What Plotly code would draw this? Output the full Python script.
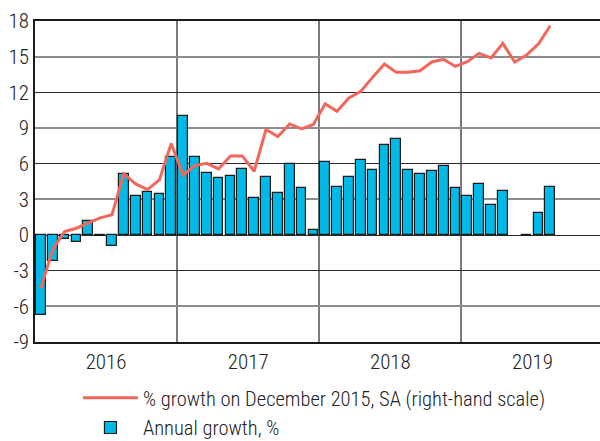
import plotly.graph_objects as go

# Monthly data, Jan 2016 - Aug 2019
months = ([f"2016-{m:02d}" for m in range(1, 13)] + [f"2017-{m:02d}" for m in range(1, 13)]
          + [f"2018-{m:02d}" for m in range(1, 13)] + [f"2019-{m:02d}" for m in range(1, 9)])

annual_growth = [-6.7, -2.15, -0.3, -0.6, 1.15, -0.1, -0.9, 5.15, 3.25, 3.6, 3.45, 6.55,
                 10.0, 6.6, 5.2, 4.8, 4.95, 5.55, 3.1, 4.9, 3.57, 5.98, 3.93, 0.43,
                 6.1, 4.05, 4.86, 6.35, 5.45, 7.6, 8.05, 5.45, 5.17, 5.36, 5.78, 3.93,
                 3.32, 4.3, 2.56, 3.74, None, -0.05, 1.83, 4.05]

growth_dec2015 = [-4.47, -1.2, 0.3, 0.57, 1.02, 1.44, 1.7, 5.14, 4.3, 3.82, 4.64, 7.7,
                  5.05, 5.84, 6.03, 5.56, 6.65, 6.65, 5.36, 8.87, 8.28, 9.34, 8.92, 9.3,
                  11.03, 10.4, 11.53, 12.08, 13.26, 14.39, 13.68, 13.68, 13.82, 14.55, 14.77, 14.18,
                  14.58, 15.28, 14.89, 16.12, 14.55, 15.14, 16.07, 17.6]

years = ["2016", "2017", "2018", "2019"]
y_ticks = [-9, -6, -3, 0, 3, 6, 9, 12, 15, 18]
y_tick_labels = ["-9", "-6", "-3", "0", "3", "6", "9", "12", "15", "18"]

x = list(range(len(months)))
year_centers = [12 * i + 5.5 for i in range(len(years))]
year_bounds = [12 * i - 0.5 for i in range(1, len(years))]

font_family = "Roboto Condensed, Liberation Sans Narrow, sans-serif"
text_color = '#222222'

line = go.Scatter(x=x, y=growth_dec2015, mode='lines', yaxis='y2',
                  name='% growth on December 2015, SA (right-hand scale)',
                  line=dict(color='#F2675C', width=3))
bars = go.Bar(x=x, y=annual_growth, name='Annual growth, %', width=0.82,
              marker=dict(color='#00B9E6', line=dict(color='#1a1a1a', width=1.2)))

layout = go.Layout(
    width=600, height=441,
    # autoexpand off so the legend can't squeeze the plot area
    margin=dict(l=35, r=0, t=21, b=99, autoexpand=False),
    plot_bgcolor='white', paper_bgcolor='white',
    font=dict(family=font_family, size=21, color=text_color, weight=300),
    showlegend=True,
    legend=dict(x=0.076, y=-106 / 321, xanchor='left', yanchor='bottom',
                orientation='v', traceorder='normal',
                font=dict(size=20.5), itemwidth=55, tracegroupgap=0),
    xaxis=dict(range=[-0.5, 47.2], tickvals=year_centers, ticktext=years,
               showgrid=False, zeroline=False, ticks='', automargin=False,
               showline=True, linecolor='#1a1a1a', linewidth=1.5, mirror=True,
               minor=dict(tickvals=year_bounds, showgrid=True,
                          gridcolor='#7a7a7a', gridwidth=1.5, ticks='')),
    yaxis=dict(range=[-9, 18], tickvals=y_ticks, ticktext=y_tick_labels,
               showgrid=False, zeroline=False, automargin=False,
               ticks='', showline=True, linecolor='#1a1a1a', linewidth=1.5,
               minor=dict(tickvals=[15, 9, 3, -6], showgrid=True,
                          gridcolor='#8c8c8c', gridwidth=1.5, ticks='')),
    yaxis2=dict(range=[-9, 18], overlaying='y', side='right', showticklabels=False,
                tickvals=[18, 12, 6, 0, -3], showgrid=True, gridcolor='#2a2a2a',
                gridwidth=1.2, zeroline=False, ticks='', showline=False, automargin=False),
    bargap=0,
)

fig = go.Figure(data=[line, bars], layout=layout)
# drop the page's default body margin so the figure sits at the window's corner
fig.write_html("out.html", config={'displayModeBar': False},
               post_script="document.body.style.margin = '0';")
